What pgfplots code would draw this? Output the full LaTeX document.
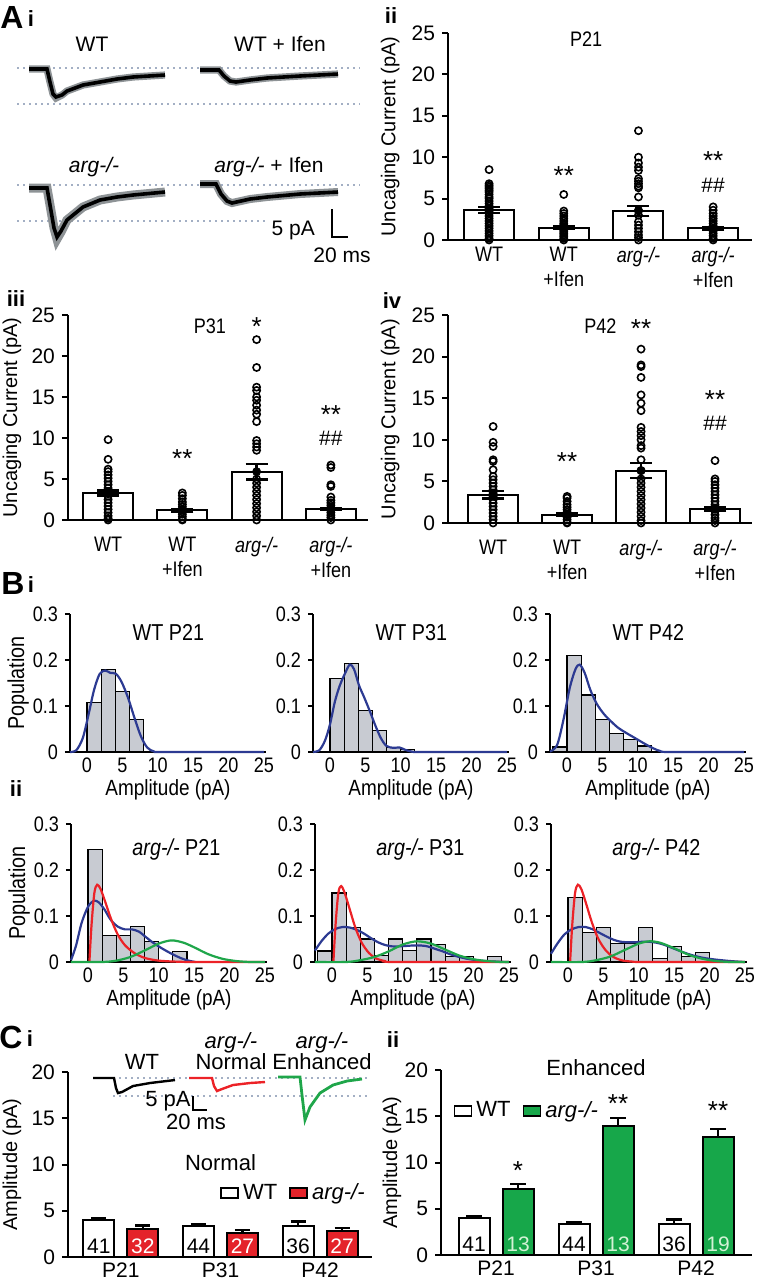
\documentclass[border=0pt]{standalone}
\usepackage{fontspec}
\setmainfont{Liberation Sans}
\newfontfamily\narrowsf[FakeStretch=0.86]{Liberation Sans}
\usepackage{pgfplots}
\pgfplotsset{compat=1.18}

\definecolor{fitblue}{HTML}{2C3A92}
\definecolor{fitred}{HTML}{EC2227}
\definecolor{fitgreen}{HTML}{1FA64A}
\definecolor{histgray}{HTML}{C8CBD2}
\definecolor{dotline}{HTML}{A3AFC4}
\definecolor{barred}{HTML}{E4232A}
\definecolor{bargreen}{HTML}{17A74A}
\definecolor{mint}{HTML}{D4F2D6}
\definecolor{semgray}{HTML}{8E9396}

\newcommand{\fs}[1]{\fontsize{#1}{#1}\selectfont}

\tikzset{
  sig/.style={font=\fs{13}, inner sep=0pt},
  hashlbl/.style={font=\fs{10.5}, inner sep=0pt},
}

\pgfplotsset{
  every axis/.append style={/pgf/number format/assume math mode=true},
  scat/.style={
    scale only axis, width=152pt, height=103.5pt, anchor=south west,
    axis lines=left, axis line style={line width=1pt,-},
    ymin=0, ymax=25, ytick={0,5,...,25},
    xmin=-0.55, xmax=3.52, xtick={0,1,2,3},
    xticklabels={WT, {WT\\+Ifen}, \textit{arg-/-}, {\textit{arg-/-}\\+Ifen}},
    xticklabel style={align=center, font=\narrowsf\fontsize{10.5}{12.5}\selectfont},
    x tick style={draw=none},
    y tick style={line width=1pt, black},
    tick align=outside, major tick length=3pt,
    yticklabel style={font=\fs{10.5}},
    ylabel={Uncaging Current (pA)},
    ylabel style={font=\fs{10}, at={(axis description cs:-0.19,0.5)}, anchor=center},
    clip=false,
  },
  bars/.style={ybar, bar shift=0pt, bar width=25pt, fill=white, draw=black, line width=1pt},
  dots/.style={only marks, mark=o, mark size=1.8pt, mark options={line width=0.8pt, black, fill=none}},
  sem/.style={black, only marks, mark=none,
    error bars/.cd, y dir=both, y explicit,
    error bar style={line width=1.2pt},
    error mark options={rotate=90, mark size=5.5pt, line width=1.2pt}},
  hist/.style={
    scale only axis, width=98pt, height=69pt, anchor=south west,
    axis lines=left, axis line style={line width=0.6pt,-},
    xmin=-2.4, xmax=25.3, ymin=0, ymax=0.3,
    xtick={0,5,...,25}, ytick={0,0.1,0.2,0.3},
    x tick style={draw=none}, tick align=outside, major tick length=2.5pt,
    y tick style={black, line width=0.6pt},
    tick label style={font=\narrowsf\fs{10.5}},
    xticklabel style={yshift=3pt},
    xlabel={Amplitude (pA)},
    xlabel style={font=\narrowsf\fs{11}, at={(axis description cs:0.5,0)}, anchor=center, yshift=-19pt},
    ylabel style={font=\narrowsf\fs{11.5}, at={(axis description cs:-0.265,0.5)}, anchor=center},
    clip=false,
  },
  hbars/.style={ybar interval, fill=histgray, draw=black, line width=0.55pt},
  fb/.style={fitblue, line width=1.1pt, smooth, tension=0.5},
  fr/.style={fitred, line width=1.1pt, smooth, tension=0.5},
  fg/.style={fitgreen, line width=1.1pt, smooth, tension=0.5},
  cbar/.style={
    scale only axis, height=92.5pt, anchor=south west,
    axis lines=left, axis line style={line width=1pt,-},
    ymin=0, ymax=20, ytick={0,5,...,20},
    xtick={0,1,2}, xticklabels={P21,P31,P42},
    x tick style={draw=none}, y tick style={line width=1pt, black},
    tick align=outside, major tick length=3pt,
    tick label style={font=\fs{10.5}},
    xticklabel style={yshift=3.5pt},
    ybar=6.5pt, bar width=15.5pt,
    ylabel={Amplitude (pA)}, ylabel style={font=\fs{10}, anchor=center},
    legend columns=2,
    legend style={draw=none, fill=none, font=\fs{11},
      /tikz/every even column/.append style={column sep=4pt}},
    legend image code/.code={\draw[#1, line width=0.9pt] (0pt,-2.5pt) rectangle (8.5pt,2.5pt);},
    clip=false,
  },
  cerr/.style={error bars/.cd, y dir=plus, y explicit,
    error bar style={line width=1.1pt, black},
    error mark options={rotate=90, mark size=3.8pt, line width=1.1pt, black}},
}

\begin{document}
\begin{tikzpicture}[x=0.5pt,y=-0.5pt]
\useasboundingbox (0,0) rectangle (762,1280);
\coordinate (pAii) at (448,240);
\coordinate (pAiii) at (68,520);
\coordinate (pAiv) at (448,523);
\coordinate (pB1) at (70,752);
\coordinate (pB2) at (313,752);
\coordinate (pB3) at (550,752);
\coordinate (pB4) at (71,962);
\coordinate (pB5) at (315,962);
\coordinate (pB6) at (551,962);
\coordinate (pCi) at (68,1257);
\coordinate (pCii) at (441,1255);
\coordinate (pOv) at (0,1280);

% ---------- A ii : P21
\begin{axis}[scat, at={(pAii)}, xticklabel style={yshift=3pt}]
\addplot[bars] coordinates {(0,3.6) (1,1.5) (2,3.5) (3,1.4)};
\addplot[dots] coordinates {
 (0,8.5) (0,6.8) (0,6.6) (0,6.4) (0,6.2) (0,6.0) (0,5.8) (0,5.5) (0,5.2) (0,5.0) (0,4.7) (0,4.4) (0,4.1) (0,3.8)
 (0,3.5) (0,3.2) (0,2.9) (0,2.6) (0,2.3) (0,2.0) (0,1.7) (0,1.4) (0,1.1) (0,0.8) (0,0.5) (0,0.2) (0,0.0)
 (1,5.5) (1,3.5) (1,3.2) (1,2.9) (1,2.6) (1,2.3) (1,2.0) (1,1.8) (1,1.6) (1,1.4) (1,1.2) (1,1.0) (1,0.8) (1,0.6) (1,0.4) (1,0.2) (1,0.0)
 (2,13.2) (2,10.0) (2,9.3) (2,8.8) (2,8.4) (2,7.4) (2,7.1) (2,6.8) (2,6.5) (2,6.3) (2,5.2) (2,3.6) (2,3.0) (2,2.2) (2,1.8) (2,1.4) (2,1.0) (2,0.6) (2,0.3) (2,0.0)
 (3,4.0) (3,3.6) (3,3.2) (3,2.9) (3,2.6) (3,2.3) (3,2.0) (3,1.7) (3,1.4) (3,1.1) (3,0.8) (3,0.5) (3,0.2) (3,0.0)};
\addplot[sem] coordinates {(0,3.6) +- (0,0.35) (1,1.5) +- (0,0.2) (2,3.5) +- (0,0.6) (3,1.4) +- (0,0.15)};
\node[font=\narrowsf\fs{10.5}] at (axis cs:1.3,24.3) {P21};
\node[sig] at (axis cs:1,7.8) {**};
\node[sig] at (axis cs:3,9.6) {**};
\node[hashlbl] at (axis cs:3,6.6) {\#\#};
\end{axis}

% ---------- A iii : P31
\begin{axis}[scat, at={(pAiii)}, xmin=-0.54, xmax=3.5, width=150pt, height=102.5pt,
  xticklabel style={yshift=-2pt}, ylabel style={at={(axis description cs:-0.187,0.5)}}]
\addplot[bars] coordinates {(0,3.3) (1,1.2) (2,5.9) (3,1.35)};
\addplot[dots] coordinates {
 (0,9.8) (0,7.4) (0,6.2) (0,5.9) (0,5.5) (0,5.1) (0,4.7) (0,4.3) (0,3.9) (0,3.5) (0,3.2) (0,2.9) (0,2.5) (0,2.1) (0,1.7) (0,1.3) (0,0.9) (0,0.5) (0,0.2) (0,0.0)
 (1,3.3) (1,3.0) (1,2.6) (1,2.2) (1,1.9) (1,1.6) (1,1.3) (1,1.0) (1,0.7) (1,0.4) (1,0.1) (1,0.0)
 (2,22.0) (2,18.6) (2,16.2) (2,15.8) (2,15.0) (2,14.6) (2,14.0) (2,13.4) (2,12.9) (2,12.0) (2,9.7) (2,9.3) (2,8.9) (2,8.5)
 (2,5.0) (2,4.5) (2,4.0) (2,3.5) (2,3.0) (2,2.5) (2,2.0) (2,1.5) (2,1.0) (2,0.5) (2,0.0)
 (3,6.7) (3,6.4) (3,4.3) (3,4.1) (3,2.8) (3,2.4) (3,2.1) (3,1.8) (3,1.5) (3,1.2) (3,0.9) (3,0.6) (3,0.3) (3,0.0)};
\addplot[sem] coordinates {(0,3.3) +- (0,0.3) (1,1.2) +- (0,0.15) (2,5.9) +- (0,0.95) (3,1.35) +- (0,0.15)};
\node[font=\narrowsf\fs{10.5}] at (axis cs:1.37,23.6) {P31};
\node[sig] at (axis cs:2,23.6) {*};
\node[sig] at (axis cs:1,7.5) {**};
\node[sig] at (axis cs:3,12.9) {**};
\node[hashlbl] at (axis cs:3,10.0) {\#\#};
\end{axis}

% ---------- A iv : P42
\begin{axis}[scat, at={(pAiv)}, xmin=-0.61, xmax=3.5, height=104pt, xticklabel style={yshift=-2pt}]
\addplot[bars] coordinates {(0,3.4) (1,1.0) (2,6.3) (3,1.65)};
\addplot[dots] coordinates {
 (0,11.6) (0,9.7) (0,9.2) (0,7.6) (0,7.4) (0,6.4) (0,5.6) (0,5.2) (0,4.8) (0,4.4) (0,4.0) (0,3.6) (0,3.2) (0,2.8) (0,2.4) (0,2.0) (0,1.6) (0,1.2) (0,0.8) (0,0.4) (0,0.0)
 (1,3.2) (1,3.0) (1,2.6) (1,2.2) (1,1.9) (1,1.6) (1,1.3) (1,1.0) (1,0.7) (1,0.4) (1,0.1) (1,0.0)
 (2,20.9) (2,19.0) (2,18.8) (2,17.5) (2,15.4) (2,14.4) (2,13.5) (2,11.5) (2,11.0) (2,10.5) (2,10.0) (2,9.3) (2,9.0) (2,7.6)
 (2,6.3) (2,5.3) (2,4.8) (2,4.3) (2,3.8) (2,3.3) (2,2.8) (2,2.3) (2,1.8) (2,1.3) (2,0.8) (2,0.3) (2,0.0)
 (3,7.5) (3,5.3) (3,5.0) (3,4.6) (3,4.2) (3,3.8) (3,3.4) (3,3.0) (3,2.6) (3,2.2) (3,1.8) (3,1.4) (3,1.0) (3,0.6) (3,0.3) (3,0.0)};
\addplot[sem] coordinates {(0,3.4) +- (0,0.45) (1,1.0) +- (0,0.12) (2,6.3) +- (0,0.9) (3,1.65) +- (0,0.2)};
\node[font=\narrowsf\fs{10.5}] at (axis cs:1.45,23.6) {P42};
\node[sig] at (axis cs:2,23.4) {**};
\node[sig] at (axis cs:1,7.4) {**};
\node[sig] at (axis cs:3,14.8) {**};
\node[hashlbl] at (axis cs:3,12.0) {\#\#};
\end{axis}

% ---------- B i
\begin{axis}[hist, at={(pB1)}, ylabel={Population}]
\addplot[hbars] coordinates {(0,0.107) (2,0.18) (4,0.132) (6,0.071) (8,0.071)};
\addplot[fb] coordinates {(-2.4,0) (-1.5,0.004) (-0.6,0.03) (0.2,0.08) (1,0.135) (1.8,0.17) (2.6,0.177) (3.3,0.172)
 (4.1,0.17) (4.9,0.152) (5.8,0.118) (6.7,0.075) (7.6,0.035) (8.5,0.01) (9.5,0.001) (11,0) (25,0)};
\node[font=\narrowsf\fs{11.5}] at (axis cs:11.5,0.259) {WT P21};
\end{axis}
\begin{axis}[hist, at={(pB2)}]
\addplot[hbars] coordinates {(0,0.16) (2,0.193) (4,0.091) (6,0.046) (8,0.01) (10,0.006) (12,0.006)};
\addplot[fb] coordinates {(-2.4,0) (-1.5,0.004) (-0.7,0.025) (0,0.06) (0.7,0.11) (1.4,0.145) (2.1,0.17) (2.8,0.19)
 (3.4,0.18) (4.1,0.145) (4.8,0.12) (5.6,0.09) (6.4,0.058) (7.2,0.03) (8,0.013) (9,0.009) (9.8,0.01) (10.6,0.005)
 (11.5,0.001) (13,0) (25,0)};
\node[font=\narrowsf\fs{11.5}] at (axis cs:11.5,0.259) {WT P31};
\end{axis}
\begin{axis}[hist, at={(pB3)}]
\addplot[hbars] coordinates {(-2,0.011) (0,0.21) (2,0.124) (4,0.07) (6,0.041) (8,0.027) (10,0.013) (12,0.013)};
\addplot[fb] coordinates {(-2.4,0.001) (-1.4,0.015) (-0.5,0.07) (0.4,0.14) (1.2,0.18) (1.8,0.19) (2.5,0.172)
 (3.3,0.135) (4.2,0.105) (5.2,0.083) (6.2,0.067) (7.2,0.053) (8.2,0.043) (9.2,0.034) (10.2,0.025) (11.2,0.016)
 (12.2,0.008) (13.2,0.002) (14.5,0) (25,0)};
\node[font=\narrowsf\fs{11.5}] at (axis cs:11.5,0.259) {WT P42};
\end{axis}

% ---------- B ii
\begin{axis}[hist, at={(pB4)}, ylabel={Population}]
\addplot[hbars] coordinates {(0,0.244) (2,0.058) (4,0.058) (6,0.078) (8,0.045) (10,0) (12,0.023) (14,0.023)};
\addplot[fb] coordinates {(-2.4,0.004) (-1.7,0.035) (-0.9,0.085) (0,0.12) (0.8,0.133) (1.5,0.13) (2.3,0.115)
 (3.2,0.092) (4.2,0.077) (5.2,0.071) (6.2,0.071) (7.2,0.066) (8.2,0.054) (9.2,0.042) (10.2,0.032) (11.2,0.023)
 (12.2,0.015) (13.2,0.008) (14.2,0.003) (15.2,0)};
\addplot[fr] coordinates {(0.2,0) (0.5,0.08) (0.9,0.15) (1.3,0.168) (1.8,0.158) (2.5,0.128) (3.3,0.092) (4.2,0.06)
 (5.2,0.037) (6.5,0.02) (8,0.009) (10,0.003) (13,0.0005) (16,0) (25,0)};
\addplot[fg] coordinates {(-2.4,0) (2,0) (4,0.003) (6,0.011) (8,0.025) (10,0.04) (11.8,0.047) (13.5,0.042) (15,0.032)
 (17,0.017) (19,0.007) (21,0.002) (23,0) (25,0)};
\node[font=\narrowsf\fs{11.5}] at (axis cs:12.5,0.245) {\textit{arg-/-} P21};
\end{axis}
\begin{axis}[hist, at={(pB5)}]
\addplot[hbars] coordinates {(-2,0.024) (0,0.15) (2,0.075) (4,0.05) (6,0.015) (8,0.05) (10,0.025) (12,0.05) (14,0.038)
 (16,0.012) (18,0.012) (20,0) (22,0.012) (24,0.012)};
\addplot[fb] coordinates {(-2.4,0.025) (-1.5,0.045) (-0.5,0.062) (0.5,0.072) (1.5,0.076) (2.5,0.075) (3.5,0.07)
 (4.5,0.062) (5.5,0.052) (6.5,0.043) (7.5,0.037) (8.5,0.034) (9.5,0.034) (10.5,0.035) (11.5,0.036) (12.5,0.036)
 (13.5,0.034) (14.5,0.029) (15.5,0.024) (16.5,0.018) (17.5,0.013) (18.5,0.009) (19.5,0.006) (21,0.003) (23,0.001) (25,0)};
\addplot[fr] coordinates {(0.2,0) (0.5,0.08) (0.9,0.15) (1.3,0.165) (1.8,0.15) (2.5,0.115) (3.3,0.075) (4.2,0.042)
 (5.2,0.02) (6.2,0.008) (7.5,0.002) (9,0) (25,0)};
\addplot[fg] coordinates {(-2.4,0) (2,0) (4,0.004) (6,0.011) (8,0.023) (10,0.038) (12,0.045) (14,0.04) (16,0.027)
 (18,0.014) (20,0.006) (22,0.002) (24,0) (25,0)};
\node[font=\narrowsf\fs{11.5}] at (axis cs:12.5,0.245) {\textit{arg-/-} P31};
\end{axis}
\begin{axis}[hist, at={(pB6)}]
\addplot[hbars] coordinates {(0,0.141) (2,0.064) (4,0.075) (6,0.04) (8,0.04) (10,0.075) (12,0.008) (14,0.033)
 (16,0.012) (18,0.02) (20,0.02)};
\addplot[fb] coordinates {(-2.4,0.018) (-1.5,0.04) (-0.5,0.06) (0.5,0.071) (1.5,0.076) (2.5,0.076) (3.5,0.071)
 (4.5,0.063) (5.5,0.055) (6.5,0.048) (7.5,0.044) (8.5,0.043) (9.5,0.043) (10.5,0.044) (11.5,0.044) (12.5,0.042)
 (13.5,0.038) (14.5,0.032) (15.5,0.026) (16.5,0.02) (17.5,0.015) (18.5,0.011) (19.5,0.008) (21,0.005) (23,0.002) (25,0)};
\addplot[fr] coordinates {(0.3,0) (0.6,0.08) (1,0.15) (1.4,0.168) (1.9,0.158) (2.6,0.125) (3.4,0.085) (4.3,0.05)
 (5.3,0.026) (6.3,0.012) (7.5,0.004) (9,0.001) (11,0) (25,0)};
\addplot[fg] coordinates {(-2.4,0) (2,0) (4,0.004) (6,0.012) (8,0.026) (10,0.04) (11.5,0.045) (13,0.042) (15,0.03)
 (17,0.016) (19,0.007) (21,0.002) (23,0) (25,0)};
\node[font=\narrowsf\fs{11.5}] at (axis cs:12.5,0.245) {\textit{arg-/-} P42};
\end{axis}

% ---------- C i : Normal
\begin{axis}[cbar, at={(pCi)}, width=152pt, xmin=-0.53, xmax=2.52,
  ylabel style={at={(axis description cs:-0.184,0.5)}},
  legend style={at={(1.01,0.346)}, anchor=east}]
\addplot[fill=white, draw=black, line width=1pt, cerr] coordinates {(0,4.0) +- (0,0.2) (1,3.3) +- (0,0.25) (2,3.4) +- (0,0.45)};
\addplot[fill=barred, draw=black, line width=1pt, cerr] coordinates {(0,3.0) +- (0,0.4) (1,2.65) +- (0,0.25) (2,2.85) +- (0,0.3)};
\legend{WT, \textit{arg-/-}}
\node[font=\fs{11}] at (axis cs:1,10.2) {Normal};
\node[font=\fs{10.5}] at (axis cs:0,1.2) [xshift=-11pt] {41};
\node[font=\fs{10.5}] at (axis cs:1,1.2) [xshift=-11pt] {44};
\node[font=\fs{10.5}] at (axis cs:2,1.2) [xshift=-11pt] {36};
\node[font=\fs{10.5}, white] at (axis cs:0,1.2) [xshift=11pt] {32};
\node[font=\fs{10.5}, white] at (axis cs:1,1.2) [xshift=11pt] {27};
\node[font=\fs{10.5}, white] at (axis cs:2,1.2) [xshift=11pt] {27};
\end{axis}

% ---------- C ii : Enhanced
\begin{axis}[cbar, at={(pCii)}, width=155.5pt, xmin=-0.55, xmax=2.56,
  ylabel style={at={(axis description cs:-0.158,0.5)}},
  legend style={at={(0.02,0.78)}, anchor=west}]
\addplot[fill=white, draw=black, line width=1pt, cerr] coordinates {(0,4.0) +- (0,0.2) (1,3.3) +- (0,0.25) (2,3.4) +- (0,0.45)};
\addplot[fill=bargreen, draw=black, line width=1pt, cerr] coordinates {(0,7.1) +- (0,0.6) (1,13.9) +- (0,0.95) (2,12.8) +- (0,0.8)};
\legend{WT, \textit{arg-/-}}
\node[font=\fs{11}] at (axis cs:1,20.3) {Enhanced};
\node[sig] at (axis cs:0,9.1) [xshift=11pt] {*};
\node[sig] at (axis cs:1,16.4) [xshift=11pt] {**};
\node[sig] at (axis cs:2,15.6) [xshift=11pt] {**};
\node[font=\fs{10.5}] at (axis cs:0,1.2) [xshift=-11pt] {41};
\node[font=\fs{10.5}] at (axis cs:1,1.2) [xshift=-11pt] {44};
\node[font=\fs{10.5}] at (axis cs:2,1.2) [xshift=-11pt] {36};
\node[font=\fs{10.5}, mint] at (axis cs:0,1.2) [xshift=11pt] {13};
\node[font=\fs{10.5}, mint] at (axis cs:1,1.2) [xshift=11pt] {13};
\node[font=\fs{10.5}, mint] at (axis cs:2,1.2) [xshift=11pt] {19};
\end{axis}

% ---------- overlay: traces, scale bars, panel letters (pixel units)
\begin{axis}[at={(pOv)}, anchor=south west, scale only axis, width=381pt, height=640pt,
  xmin=0, xmax=762, ymin=0, ymax=1280, y dir=reverse, axis lines=none, clip=false]
\addplot[dotline, dotted, line width=1pt] coordinates {(17,68) (360,68)};
\addplot[dotline, dotted, line width=1pt] coordinates {(17,104) (360,104)};
\addplot[dotline, dotted, line width=1pt] coordinates {(17,185) (360,185)};
\addplot[dotline, dotted, line width=1pt] coordinates {(17,221) (265,221)};
\addplot[dotline, dotted, line width=1pt] coordinates {(113,1078) (370,1078)};
\addplot[dotline, dotted, line width=1pt] coordinates {(113,1096) (370,1096)};
% A i traces: SEM band then mean
\addplot[semgray, line width=3.6pt] coordinates {(29,69) (47,69) (50,82) (53,94) (56,98) (62,95) (67,91) (83,85) (100,82) (117,79) (133,77) (165,75)};
\addplot[black, line width=1.8pt] coordinates {(29,69) (47,69) (50,82) (53,94) (56,97) (62,95) (67,91) (83,85) (100,82) (117,79) (133,77) (165,75)};
\addplot[semgray, line width=3.6pt] coordinates {(200,70) (219,70) (224,76) (230,81) (236,82) (250,80) (267,78) (300,76) (338,74)};
\addplot[black, line width=1.8pt] coordinates {(200,70) (219,70) (224,76) (230,81) (236,82) (250,80) (267,78) (300,76) (338,74)};
\addplot[semgray, line width=4.5pt] coordinates {(29,188) (47,188) (50,205) (54,228) (57,239) (61,232) (67,220) (83,207) (100,200) (117,197) (133,195) (165,192)};
\addplot[black, line width=1.8pt] coordinates {(29,188) (47,188) (50,205) (54,228) (57,237) (61,231) (67,220) (83,207) (100,200) (117,197) (133,195) (165,192)};
\addplot[semgray, line width=4pt] coordinates {(200,184) (216,184) (221,194) (227,201) (232,203) (250,199) (267,197) (300,194) (338,192)};
\addplot[black, line width=1.8pt] coordinates {(200,184) (216,184) (221,194) (227,201) (232,203) (250,199) (267,197) (300,194) (338,192)};
\addplot[black, line width=1.1pt] coordinates {(332,209) (332,237) (348,237)};
% C i traces
\addplot[black, line width=1.2pt] coordinates {(93,1078) (114,1078) (116,1088) (118,1093) (122,1092) (133,1086) (150,1083) (175,1080)};
\addplot[fitred, line width=1.2pt] coordinates {(189,1078) (212,1078) (214,1086) (217,1091) (222,1089) (233,1085) (250,1083) (265,1082)};
\addplot[fitgreen, line width=1.4pt] coordinates {(278,1077) (300,1077) (302,1095) (305,1120) (310,1107) (320,1093) (333,1085) (347,1081) (362,1079)};
\addplot[black, line width=1.1pt] coordinates {(193,1096) (193,1110) (207,1110)};
% labels
\node[font=\bfseries\fs{16}] at (axis cs:12,17) {A};
\node[font=\bfseries\fs{11}] at (axis cs:31,19) {i};
\node[font=\bfseries\fs{11}] at (axis cs:391,16) {ii};
\node[font=\bfseries\fs{11}] at (axis cs:16,299) {iii};
\node[font=\bfseries\fs{11}] at (axis cs:392,301) {iv};
\node[font=\bfseries\fs{16}] at (axis cs:13,583) {B};
\node[font=\bfseries\fs{11}] at (axis cs:31,585) {i};
\node[font=\bfseries\fs{11}] at (axis cs:16,789) {ii};
\node[font=\bfseries\fs{16}] at (axis cs:11,1037) {C};
\node[font=\bfseries\fs{11}] at (axis cs:30,1039) {i};
\node[font=\bfseries\fs{11}] at (axis cs:393,1040) {ii};
\node[font=\fs{10.5}] at (axis cs:92,44) {WT};
\node[font=\fs{10.5}] at (axis cs:280,44) {WT + Ifen};
\node[font=\fs{10.5}] at (axis cs:94,167) {\textit{arg-/-}};
\node[font=\fs{10.5}] at (axis cs:269,167) {\textit{arg-/-} + Ifen};
\node[font=\fs{10.5}, anchor=east] at (axis cs:322,230) {5 pA};
\node[font=\fs{10.5}] at (axis cs:342,255) {20 ms};
\node[font=\fs{11}] at (axis cs:142,1062) {WT};
\node[font=\fs{11}] at (axis cs:231,1043) {\textit{arg-/-}};
\node[font=\fs{11}] at (axis cs:231,1062) {Normal};
\node[font=\fs{11}] at (axis cs:322,1043) {\textit{arg-/-}};
\node[font=\fs{11}] at (axis cs:322,1062) {Enhanced};
\node[font=\fs{11}] at (axis cs:168,1101) {5 pA};
\node[font=\fs{11}] at (axis cs:196,1122) {20 ms};
\end{axis}
\end{tikzpicture}
\end{document}
